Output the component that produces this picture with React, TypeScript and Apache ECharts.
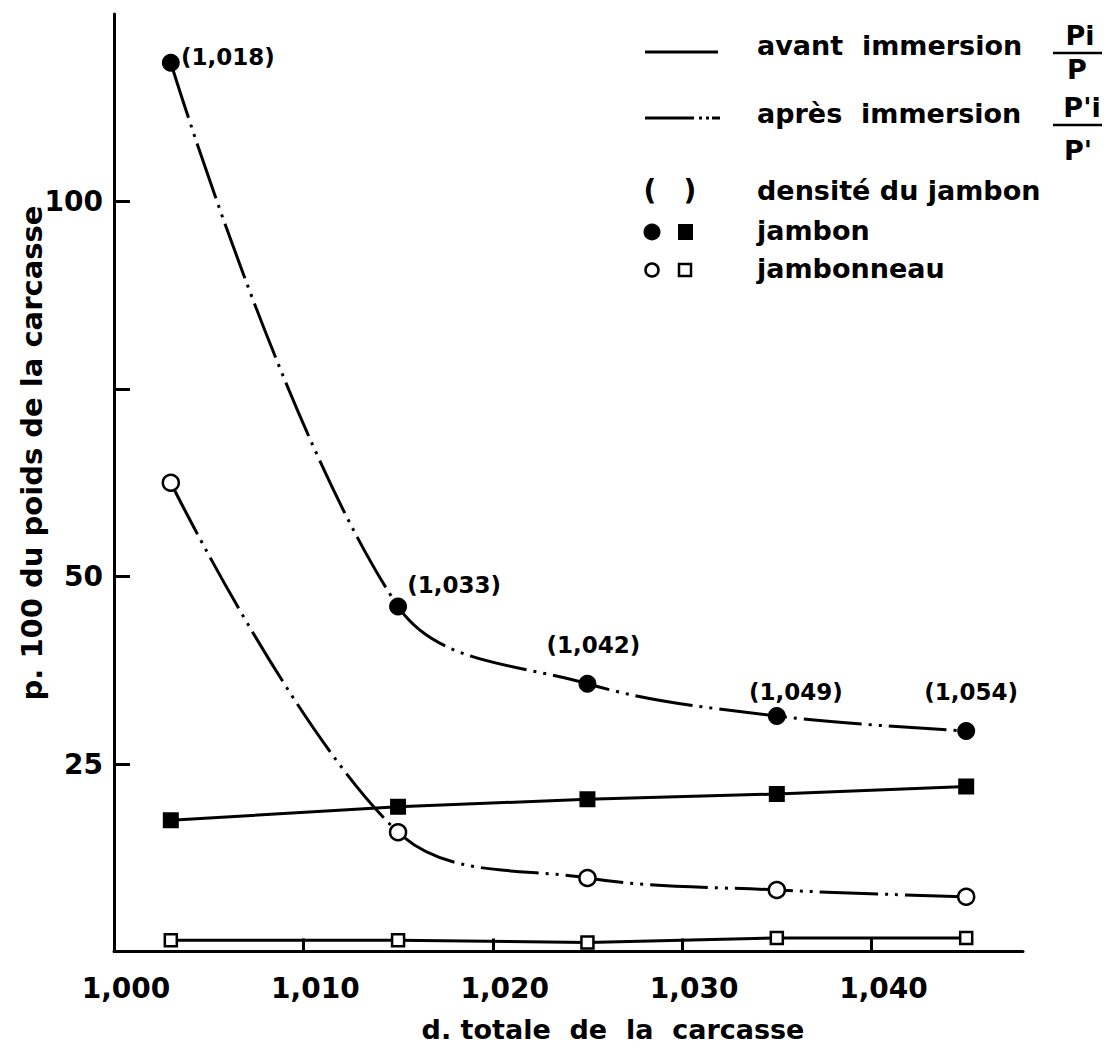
import React, { useEffect, useRef } from "react";
import * as echarts from "echarts";

// ---- data ----
const densiteCarcasse = [1.003, 1.015, 1.025, 1.035, 1.045];
const jambonApres = [118.5, 46.0, 35.7, 31.4, 29.4];
const jambonAvant = [17.5, 19.3, 20.3, 21.0, 22.0];
const jambonneauApres = [62.5, 15.9, 9.8, 8.2, 7.3];
const jambonneauAvant = [1.5, 1.5, 1.2, 1.8, 1.8];
const densiteJambon = [1.018, 1.033, 1.042, 1.049, 1.054];

const yTickValues = [25, 50, 75, 100];
const yLabelValues = [25, 50, 100];
const xTickValues = [1.01, 1.02, 1.03, 1.04];
const xLabelValues = [1.0, 1.01, 1.02, 1.03, 1.04];

const xAxisTitle = "d. totale  de  la  carcasse";
const yAxisTitle = "p. 100 du poids de la carcasse";
const legendTexts = ["avant  immersion", "après  immersion", "densité du jambon", "jambon", "jambonneau"];

// ---- styling (not data) ----
const labelOffsets = [
  [57, -6],
  [56, -22],
  [6, -39],
  [19, -24],
  [5, -39],
];
const FONT = "DejaVu Sans";
const DASH = [58, 7, 3, 7, 3, 7];

const fmtComma = (v: number) => v.toFixed(3).replace(".", ",");

export default function App() {
  const ref = useRef<HTMLDivElement>(null);

  useEffect(() => {
    if (!ref.current) return;
    const chart = echarts.init(ref.current, null, { renderer: "svg" });

    const pts = (vals: number[]) => densiteCarcasse.map((x, i) => [x, vals[i]]);

    const base = (name: string, vals: number[], symbol: string, size: number, filled: boolean, dashed: boolean) => ({
      type: "line",
      name,
      data: pts(vals) as any[],
      symbol,
      symbolSize: size,
      showAllSymbol: true,
      smooth: dashed ? 0.36 : false,
      lineStyle: { color: "#000", width: 3, type: dashed ? DASH : "solid", cap: "butt" },
      itemStyle: {
        color: filled ? "#000" : "#fff",
        borderColor: "#000",
        borderWidth: filled ? 0 : 2.5,
        opacity: 1,
      },
      emphasis: { disabled: true },
      z: 3,
    });

    const jApres: any = base("jambon après immersion", jambonApres, "circle", 18, true, true);
    jApres.data = densiteCarcasse.map((x, i) => ({
      value: [x, jambonApres[i]],
      label: {
        show: true,
        position: "inside",
        offset: labelOffsets[i],
        formatter: "(" + fmtComma(densiteJambon[i]) + ")",
        color: "#000",
        fontFamily: FONT,
        fontWeight: "bold",
        fontSize: 23,
      },
    }));

    const series = [
      jApres,
      base("jambon avant immersion", jambonAvant, "rect", 16, true, false),
      base("jambonneau après immersion", jambonneauApres, "circle", 16, false, true),
      base("jambonneau avant immersion", jambonneauAvant, "rect", 12, false, false),
    ];

    const txt = (x: number, y: number, text: string, extra: any = {}) => ({
      type: "text",
      x,
      y,
      style: {
        text,
        fill: "#000",
        font: `${extra.weight || "bold"} ${extra.size || 27}px '${FONT}'`,
        textAlign: extra.align || "left",
        textVerticalAlign: "middle",
      },
    });
    const ln = (x1: number, y1: number, x2: number, y2: number, w = 3) => ({
      type: "line",
      shape: { x1, y1, x2, y2 },
      style: { stroke: "#000", lineWidth: w },
    });

    const graphic: any[] = [
      // axis titles
      txt(613, 1029, xAxisTitle, { align: "center", size: 27 }),
      { ...txt(32, 453, yAxisTitle, { align: "center", size: 29 }), rotation: Math.PI / 2 },
      // legend: line samples
      ln(645, 52, 718, 52),
      ln(645, 118, 694, 118),
      ln(699, 118, 702, 118),
      ln(706, 118, 709, 118),
      ln(712, 118, 720, 118),
      txt(757, 45, legendTexts[0]),
      txt(757, 113, legendTexts[1]),
      // fractions
      txt(1080, 35, "Pi", { align: "center", size: 27 }),
      ln(1053, 53, 1102, 53, 2.5),
      txt(1077, 69, "P", { align: "center", size: 27 }),
      txt(1082, 107, "P'i", { align: "center", size: 27 }),
      ln(1053, 125, 1102, 125, 2.5),
      txt(1078, 150, "P'", { align: "center", size: 27 }),
      // symbols
      txt(650, 190, "(", { align: "center", size: 28 }),
      txt(690, 190, ")", { align: "center", size: 28 }),
      txt(757, 190, legendTexts[2]),
      { type: "circle", shape: { cx: 652, cy: 232, r: 8.5 }, style: { fill: "#000" } },
      { type: "rect", shape: { x: 678, y: 224, width: 15, height: 16 }, style: { fill: "#000" } },
      txt(757, 230, legendTexts[3]),
      { type: "circle", shape: { cx: 652, cy: 270, r: 6.5 }, style: { fill: "#fff", stroke: "#000", lineWidth: 2.5 } },
      { type: "rect", shape: { x: 679, y: 264, width: 12, height: 12 }, style: { fill: "#fff", stroke: "#000", lineWidth: 2.5 } },
      txt(757, 268, legendTexts[4]),
    ];

    chart.setOption({
      animation: false,
      backgroundColor: "#fff",
      textStyle: { fontFamily: FONT },
      grid: { left: 114, right: 85, top: 14, bottom: 97.5, containLabel: false },
      xAxis: {
        type: "value",
        min: 1.0,
        max: 1.048,
        interval: 0.01,
        axisLine: { show: true, onZero: false, lineStyle: { color: "#000", width: 3 } },
        axisTick: { show: true, inside: true, length: 13, customValues: xTickValues, lineStyle: { color: "#000", width: 3 } },
        axisLabel: {
          customValues: xLabelValues,
          formatter: (v: number) => fmtComma(v),
          color: "#000",
          fontSize: 28,
          fontWeight: "bold",
          fontFamily: FONT,
          margin: 23,
          padding: [0, 0, 0, 24],
        },
        splitLine: { show: false },
      },
      yAxis: {
        type: "value",
        min: 0,
        max: 125,
        interval: 25,
        axisLine: { show: true, onZero: false, lineStyle: { color: "#000", width: 3 } },
        axisTick: { show: true, inside: true, length: 16, customValues: yTickValues, lineStyle: { color: "#000", width: 3 } },
        axisLabel: {
          customValues: yLabelValues,
          formatter: (v: number) => String(v),
          color: "#000",
          fontSize: 28,
          fontWeight: "bold",
          fontFamily: FONT,
          margin: 11,
          padding: [0, 0, 14, 0],
        },
        splitLine: { show: false },
      },
      series,
      graphic,
    });

    return () => chart.dispose();
  }, []);

  return <div ref={ref} style={{ position: "fixed", left: 0, top: 0, width: 1108, height: 1049, background: "#fff" }} />;
}
